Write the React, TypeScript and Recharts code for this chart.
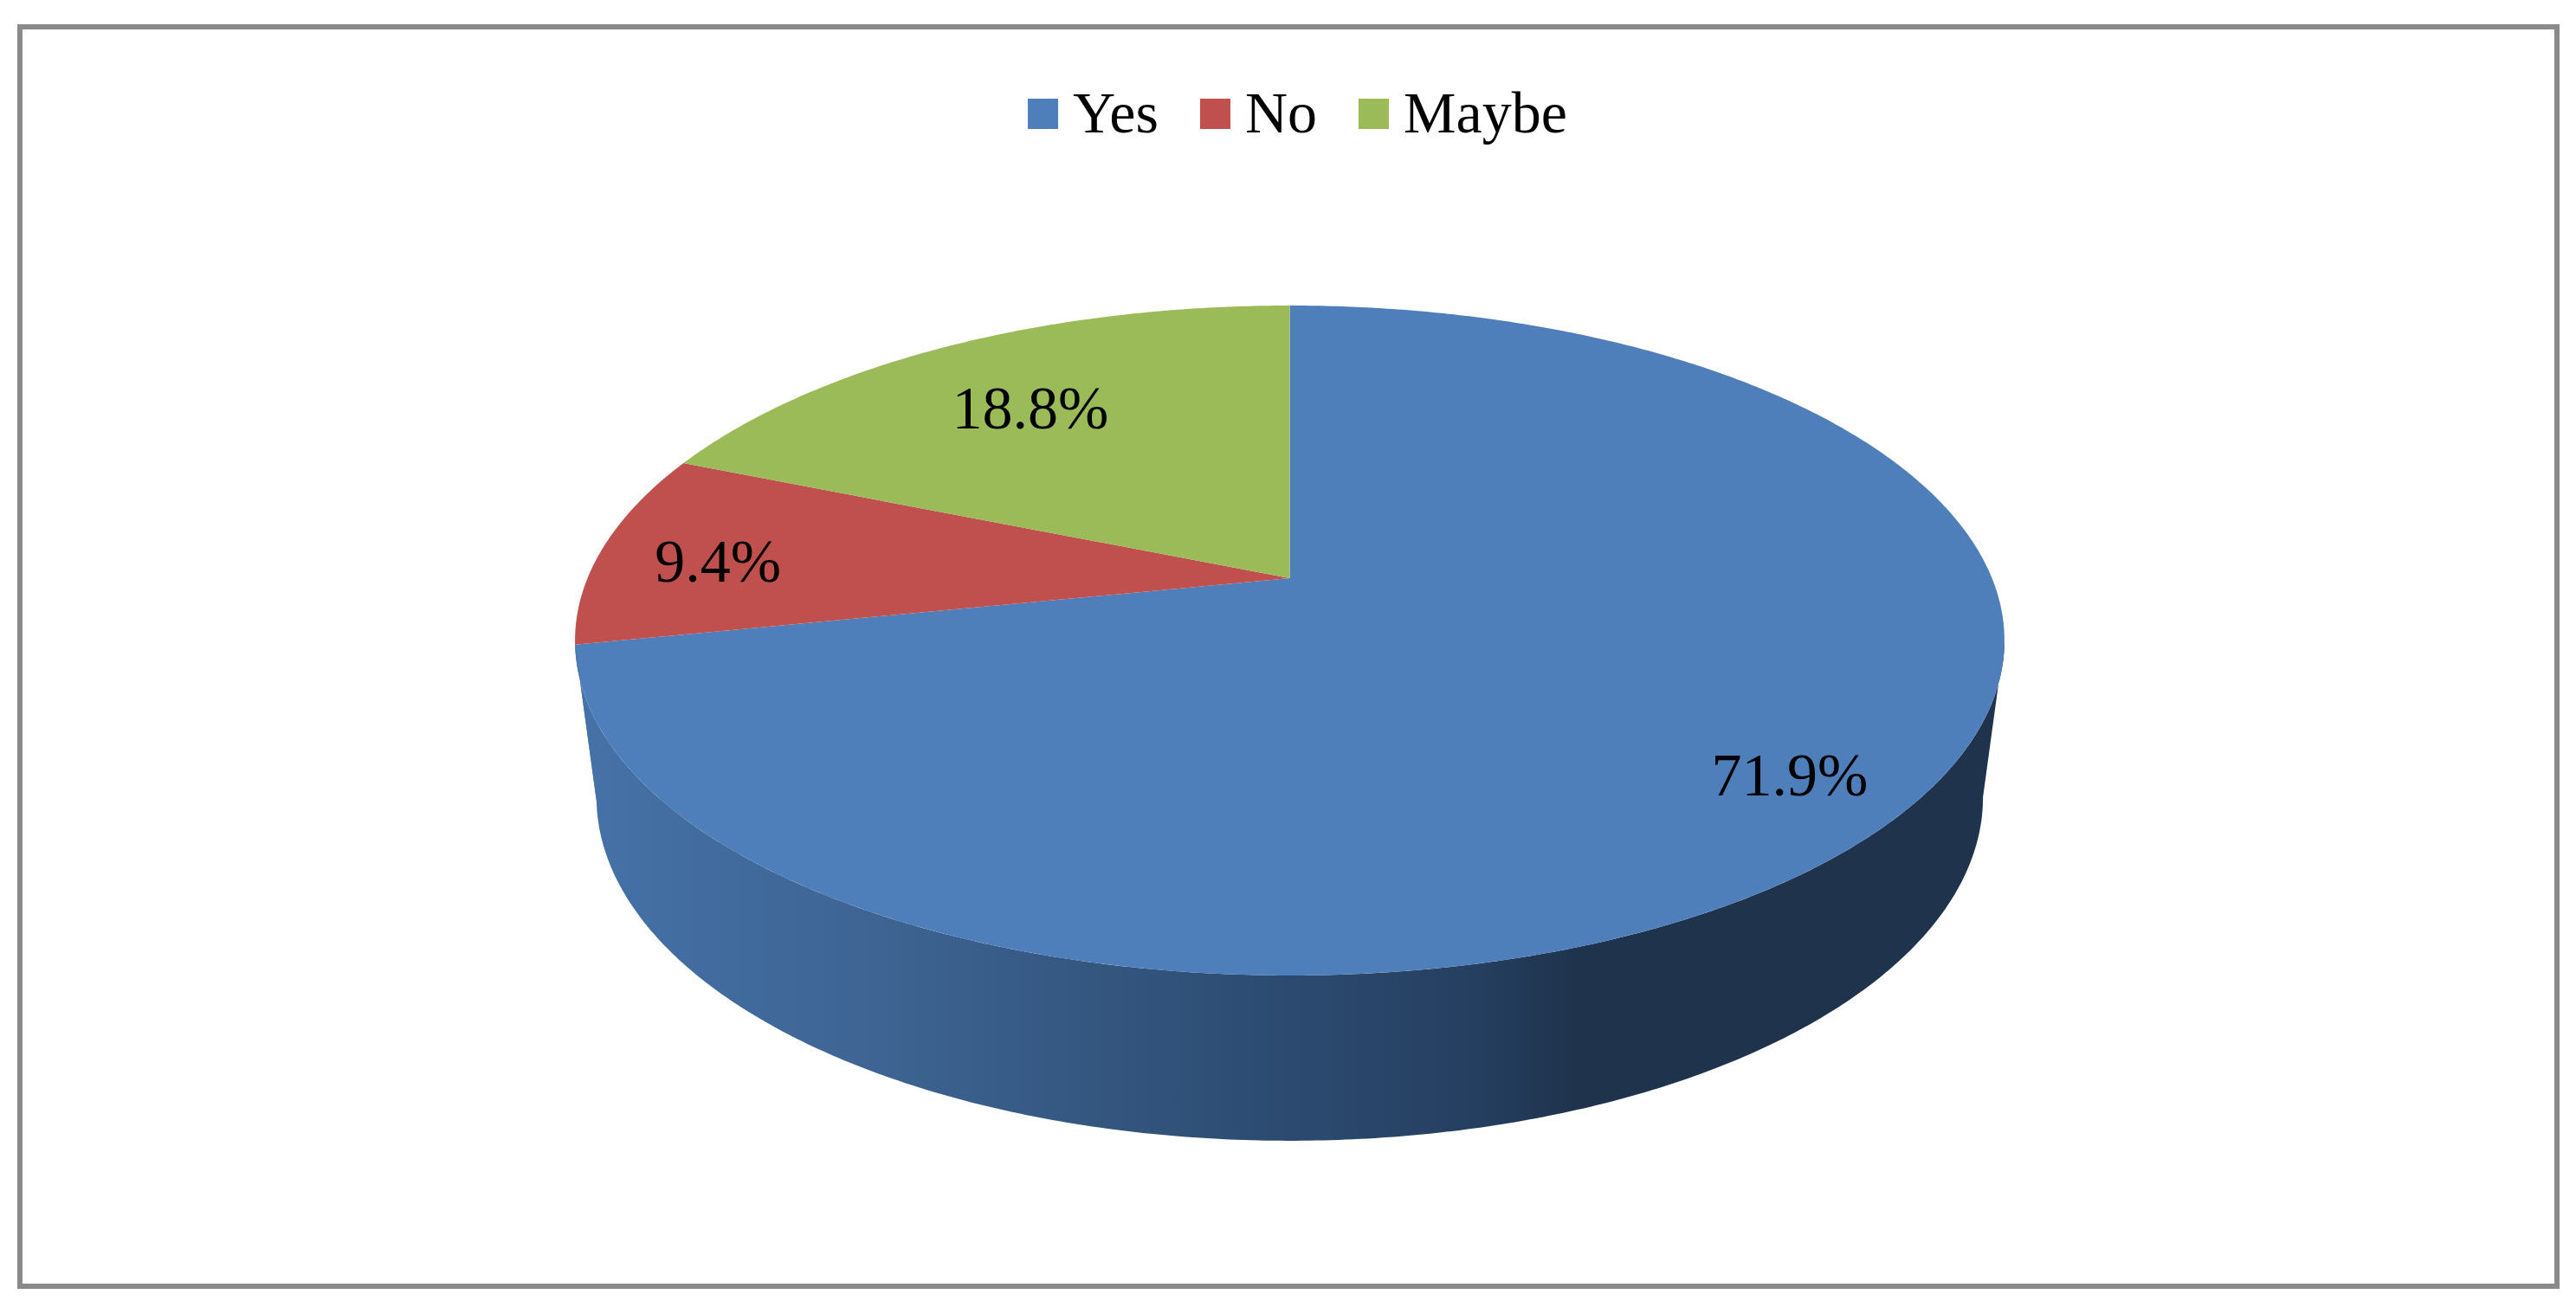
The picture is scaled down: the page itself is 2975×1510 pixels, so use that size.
import React from 'react';
import { PieChart, Pie, Cell, Legend } from 'recharts';

const CATEGORIES = ['Yes', 'No', 'Maybe'];
const VALUES = [71.9, 9.4, 18.8];
const COLORS = ['#4e7fbb', '#c0504d', '#9bbb59'];

const chartData = CATEGORIES.map((name, i) => ({ name, value: VALUES[i] }));

const FONT = '"Liberation Serif", serif';
const CX = 1489.5;
const CY = 668;
const RADIUS = 825;

// the pie lies on a tilted plane: circle coordinates go through a small perspective
const TILT = -0.186;
const X_SCALE = 811 / RADIUS;
const Y_SCALE = 373.6 / RADIUS;
// the lower rim is the same disc, narrower and further down
const RIM_CY = 847;
const RIM_X_SCALE = 0.97;
const RIM_Y_SCALE = 1.026;
const FRONT_ANGLE = (Math.asin(TILT) * 180) / Math.PI;

// how far out each label sits, as a share of the radius
const LABEL_REACH = [0.83, 0.83, 0.74];

const project = (cx: number, cy: number, r: number, deg: number, sx = 1, sy = 1) => {
    const rad = (deg * Math.PI) / 180;
    const u = (r * Math.cos(rad)) / RADIUS;
    const v = (-r * Math.sin(rad)) / RADIUS;
    const w = 1 + TILT * v;
    return {
        x: cx + (sx * X_SCALE * RADIUS * u) / w,
        y: cy + (sy * Y_SCALE * RADIUS * v) / w,
    };
};

const arcPoints = (cx: number, cy: number, r: number, from: number, to: number, sx = 1, sy = 1) => {
    const steps = Math.max(2, Math.ceil(Math.abs(to - from) * 2));
    const pts: string[] = [];
    for (let i = 0; i <= steps; i++) {
        const p = project(cx, cy, r, from + ((to - from) * i) / steps, sx, sy);
        pts.push(`${p.x.toFixed(2)} ${p.y.toFixed(2)}`);
    }
    return pts;
};

const renderSlice = (props: any) => {
    const { cx, cy, outerRadius, startAngle, endAngle, fill } = props;
    const top = arcPoints(cx, cy, outerRadius, startAngle, endAngle);

    // the side wall only exists on the front half of the disc
    const wallFrom = Math.min(startAngle, FRONT_ANGLE);
    const wallTo = Math.max(endAngle, -180 - FRONT_ANGLE);
    const hasWall = wallFrom > wallTo;
    const rim = hasWall ? arcPoints(cx, RIM_CY, outerRadius, wallFrom, wallTo, RIM_X_SCALE, RIM_Y_SCALE) : [];
    const upper = hasWall ? arcPoints(cx, cy, outerRadius, wallTo, wallFrom) : [];

    return (
        <g>
            {hasWall && <path d={`M${[...rim, ...upper].join('L')}Z`} fill="url(#wallShade)" />}
            <path d={`M${cx} ${cy}L${top.join('L')}Z`} fill={fill} />
        </g>
    );
};

const renderLabel = (props: any) => {
    const { cx, cy, midAngle, outerRadius, value, index } = props;
    const p = project(cx, cy, outerRadius * LABEL_REACH[index], midAngle);
    return (
        <text
            x={p.x}
            y={p.y + 10}
            textAnchor="middle"
            dominantBaseline="central"
            fontFamily={FONT}
            fontSize={70}
            fill="#000"
        >
            {`${value.toFixed(1)}%`}
        </text>
    );
};

// zero height so the legend takes no room away from the plot
const renderLegend = (props: any) => (
    <div style={{ height: 0 }}>
        <div style={{ display: 'flex', alignItems: 'center', fontFamily: FONT, fontSize: 68, color: '#000', lineHeight: '76px' }}>
            {props.payload.map((entry: any) => (
                <div key={entry.value} style={{ display: 'flex', alignItems: 'center', marginRight: 48 }}>
                    <span style={{ width: 35, height: 35, background: entry.color, marginRight: 17, marginTop: 2 }} />
                    <span>{entry.value}</span>
                </div>
            ))}
        </div>
    </div>
);

export default function App() {
    return (
        <div style={{ position: 'absolute', left: 0, top: 0, width: 2975, height: 1510, background: '#fff' }}>
            <div
                style={{
                    position: 'absolute',
                    left: 20,
                    top: 28,
                    width: 2936,
                    height: 1461,
                    boxSizing: 'border-box',
                    border: '6.5px solid #8a8a8a',
                }}
            />
            <div style={{ position: 'absolute', left: 0, top: 0 }}>
                <PieChart width={2975} height={1510} margin={{ top: 0, right: 0, bottom: 0, left: 0 }}>
                    <defs>
                        <linearGradient id="wallShade" gradientUnits="userSpaceOnUse" x1={664} y1={0} x2={2315} y2={0}>
                            <stop offset="0" stopColor="#4572a8" />
                            <stop offset="0.2" stopColor="#3e6594" />
                            <stop offset="0.36" stopColor="#345780" />
                            <stop offset="0.5" stopColor="#2c4a70" />
                            <stop offset="0.63" stopColor="#253f60" />
                            <stop offset="0.7" stopColor="#1f334d" />
                            <stop offset="1" stopColor="#1f334d" />
                        </linearGradient>
                    </defs>
                    <Legend
                        content={renderLegend}
                        verticalAlign="top"
                        itemSorter={null}
                        wrapperStyle={{ position: 'absolute', left: 1187, top: 92, width: 760 }}
                    />
                    <Pie
                        data={chartData}
                        dataKey="value"
                        nameKey="name"
                        cx={CX}
                        cy={CY}
                        innerRadius={0}
                        outerRadius={RADIUS}
                        startAngle={90}
                        endAngle={-270}
                        stroke="none"
                        shape={renderSlice}
                        label={renderLabel}
                        labelLine={false}
                        isAnimationActive={false}
                    >
                        {chartData.map((entry, index) => (
                            <Cell key={`cell-${index}`} fill={COLORS[index]} />
                        ))}
                    </Pie>
                </PieChart>
            </div>
        </div>
    );
}
